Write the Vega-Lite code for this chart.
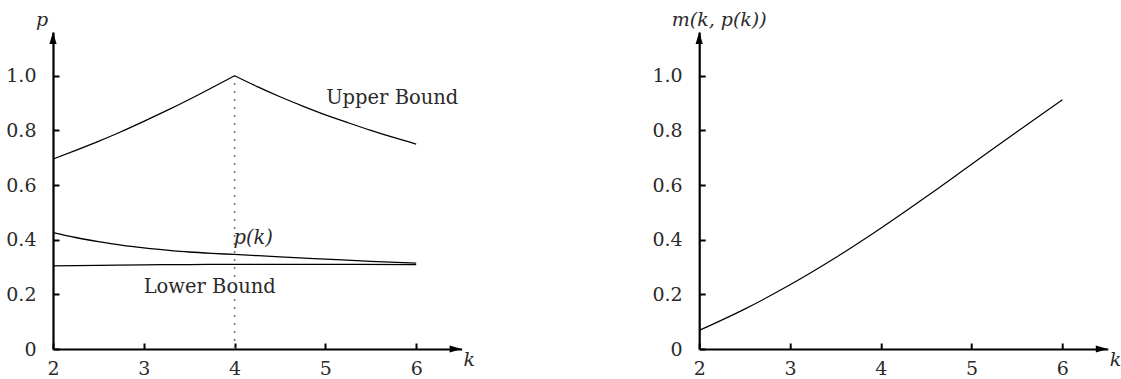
{
  "$schema": "https://vega.github.io/schema/vega-lite/v6.json",
  "background": "white",
  "padding": {"left": 5, "top": 10, "right": 0, "bottom": 0},
  "bounds": "flush",
  "spacing": 237.2,
  "config": {
    "view": {"stroke": null},
    "font": "DejaVu Serif",
    "axis": {
      "grid": false,
      "domainColor": "black",
      "domainWidth": 2.2,
      "tickColor": "black",
      "tickWidth": 2,
      "tickSize": -6,
      "labelFont": "DejaVu Serif",
      "labelFontSize": 19,
      "labelColor": "#2a2a2a",
      "labelFlush": false,
      "labelOverlap": false,
      "labelBound": false,
      "titleFont": "DejaVu Serif",
      "titleFontSize": 19,
      "titleFontStyle": "italic",
      "titleFontWeight": "normal",
      "titleColor": "#2a2a2a",
      "titleAngle": 0,
      "titleAlign": "left",
      "titleBaseline": "alphabetic"
    },
    "axisX": {"labelPadding": 16, "labelDx": 5, "labelAngle": 0, "titleX": 410, "titleY": 16},
    "axisY": {"labelPadding": 23, "titleY": -7}
  },
  "datasets": {
    "curves": [
      {"s": "uL", "k": 2, "v": 0.695}, {"s": "uL", "k": 2.25, "v": 0.727}, {"s": "uL", "k": 2.5, "v": 0.76}, {"s": "uL", "k": 2.75, "v": 0.795}, {"s": "uL", "k": 3, "v": 0.833}, {"s": "uL", "k": 3.25, "v": 0.872}, {"s": "uL", "k": 3.5, "v": 0.913}, {"s": "uL", "k": 3.75, "v": 0.956}, {"s": "uL", "k": 4, "v": 1.0},
      {"s": "uR", "k": 4, "v": 1.0}, {"s": "uR", "k": 4.25, "v": 0.96}, {"s": "uR", "k": 4.5, "v": 0.923}, {"s": "uR", "k": 4.75, "v": 0.889}, {"s": "uR", "k": 5, "v": 0.857}, {"s": "uR", "k": 5.25, "v": 0.828}, {"s": "uR", "k": 5.5, "v": 0.8}, {"s": "uR", "k": 5.75, "v": 0.774}, {"s": "uR", "k": 6, "v": 0.75},
      {"s": "p", "k": 2, "v": 0.426}, {"s": "p", "k": 2.25, "v": 0.408}, {"s": "p", "k": 2.5, "v": 0.393}, {"s": "p", "k": 2.75, "v": 0.38}, {"s": "p", "k": 3, "v": 0.37}, {"s": "p", "k": 3.25, "v": 0.362}, {"s": "p", "k": 3.5, "v": 0.355}, {"s": "p", "k": 3.75, "v": 0.35}, {"s": "p", "k": 4, "v": 0.346}, {"s": "p", "k": 4.5, "v": 0.337}, {"s": "p", "k": 5, "v": 0.329}, {"s": "p", "k": 5.5, "v": 0.321}, {"s": "p", "k": 6, "v": 0.314},
      {"s": "lo", "k": 2, "v": 0.304}, {"s": "lo", "k": 2.5, "v": 0.306}, {"s": "lo", "k": 3, "v": 0.308}, {"s": "lo", "k": 3.5, "v": 0.309}, {"s": "lo", "k": 4, "v": 0.31}, {"s": "lo", "k": 5, "v": 0.31}, {"s": "lo", "k": 6, "v": 0.309}
    ],
    "mcurve": [
      {"k": 2, "v": 0.068}, {"k": 2.5, "v": 0.146}, {"k": 3, "v": 0.235}, {"k": 3.5, "v": 0.334}, {"k": 4, "v": 0.442}, {"k": 4.5, "v": 0.557}, {"k": 5, "v": 0.676}, {"k": 5.5, "v": 0.795}, {"k": 6, "v": 0.912}
    ],
    "arrows": [
      {"k": 6.5, "v": 0, "dir": "r"}, {"k": 2, "v": 1.16, "dir": "u"}
    ]
  },
  "hconcat": [
    {
      "width": 408.6,
      "height": 317,
      "layer": [
        {
          "data": {"values": [{"k": 4, "y0": 0, "y1": 1.0}]},
          "mark": {"type": "rule", "color": "#777", "strokeDash": [2, 6], "strokeWidth": 1.6},
          "encoding": {
            "x": {"field": "k", "type": "quantitative", "scale": {"domain": [2, 6.5], "nice": false, "zero": false},
              "axis": {"values": [2, 3, 4, 5, 6], "format": "d", "title": "k"}},
            "y": {"field": "y0", "type": "quantitative", "scale": {"domain": [0, 1.16], "nice": false, "zero": false},
              "axis": {"values": [0, 0.2, 0.4, 0.6, 0.8, 1.0], "labelExpr": "datum.value == 0 ? '0' : format(datum.value, '.1f')", "title": "p", "titleX": -17.5}},
            "y2": {"field": "y1"}
          }
        },
        {
          "data": {"name": "curves"},
          "mark": {"type": "line", "color": "black", "strokeWidth": 1.3, "interpolate": "monotone"},
          "encoding": {
            "x": {"field": "k", "type": "quantitative"},
            "y": {"field": "v", "type": "quantitative"},
            "detail": {"field": "s"}
          }
        },
        {
          "data": {"values": [{"k": 5.736, "v": 0.897, "t": "Upper Bound"}, {"k": 3.726, "v": 0.204, "t": "Lower Bound"}]},
          "mark": {"type": "text", "font": "DejaVu Serif", "fontSize": 19.5, "align": "center", "baseline": "alphabetic", "color": "#2a2a2a"},
          "encoding": {
            "x": {"field": "k", "type": "quantitative"},
            "y": {"field": "v", "type": "quantitative"},
            "text": {"field": "t"}
          }
        },
        {
          "data": {"values": [{"k": 4.205, "v": 0.385, "t": "p(k)"}]},
          "mark": {"type": "text", "font": "DejaVu Serif", "fontStyle": "italic", "fontSize": 19.5, "align": "center", "baseline": "alphabetic", "color": "#2a2a2a"},
          "encoding": {
            "x": {"field": "k", "type": "quantitative"},
            "y": {"field": "v", "type": "quantitative"},
            "text": {"field": "t"}
          }
        },
        {
          "data": {"name": "arrows"},
          "mark": {"type": "point", "filled": true, "opacity": 1, "color": "black", "size": 576, "strokeWidth": 0},
          "encoding": {
            "x": {"field": "k", "type": "quantitative"},
            "y": {"field": "v", "type": "quantitative"},
            "shape": {"field": "dir", "type": "nominal", "scale": {"domain": ["r", "u"], "range": ["M-1,-0.3L0,0L-1,0.3Z", "M-0.3,1L0,0L0.3,1Z"]}, "legend": null}
          }
        }
      ]
    },
    {
      "width": 408.6,
      "height": 317,
      "layer": [
        {
          "data": {"name": "mcurve"},
          "mark": {"type": "line", "color": "black", "strokeWidth": 1.2, "interpolate": "monotone"},
          "encoding": {
            "x": {"field": "k", "type": "quantitative", "scale": {"domain": [2, 6.5], "nice": false, "zero": false},
              "axis": {"values": [2, 3, 4, 5, 6], "format": "d", "title": "k"}},
            "y": {"field": "v", "type": "quantitative", "scale": {"domain": [0, 1.16], "nice": false, "zero": false},
              "axis": {"values": [0, 0.2, 0.4, 0.6, 0.8, 1.0], "labelExpr": "datum.value == 0 ? '0' : format(datum.value, '.1f')", "title": "m(k, p(k))", "titleX": -28}}
          }
        },
        {
          "data": {"name": "arrows"},
          "mark": {"type": "point", "filled": true, "opacity": 1, "color": "black", "size": 576, "strokeWidth": 0},
          "encoding": {
            "x": {"field": "k", "type": "quantitative"},
            "y": {"field": "v", "type": "quantitative"},
            "shape": {"field": "dir", "type": "nominal", "scale": {"domain": ["r", "u"], "range": ["M-1,-0.3L0,0L-1,0.3Z", "M-0.3,1L0,0L0.3,1Z"]}, "legend": null}
          }
        }
      ]
    }
  ]
}
